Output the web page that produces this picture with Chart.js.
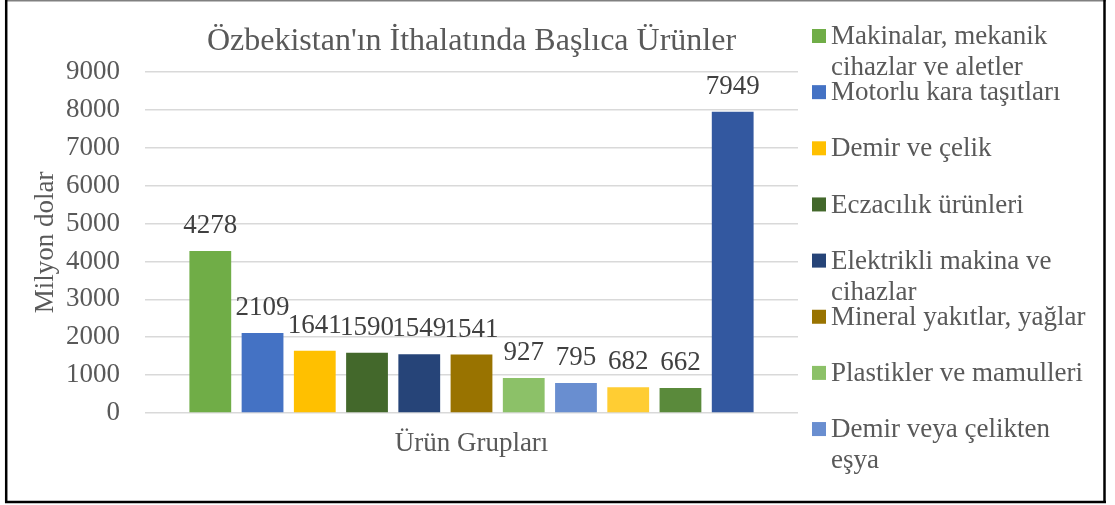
<!DOCTYPE html>
<html>
<head>
<meta charset="utf-8">
<script src="https://cdn.jsdelivr.net/npm/chart.js@4/dist/chart.umd.min.js"></script>
<style>
  html, body { margin: 0; padding: 0; background: #ffffff; }
  #wrap { position: relative; width: 1115px; height: 505px; }
</style>
</head>
<body>
<div id="wrap"><canvas id="c" width="1115" height="505"></canvas></div>
<script>
// ---- data ----
const categories = ['Ürün Grupları'];
const seriesNames = [
  'Makinalar, mekanik cihazlar ve aletler',
  'Motorlu kara taşıtları',
  'Demir ve çelik',
  'Eczacılık ürünleri',
  'Elektrikli makina ve cihazlar',
  'Mineral yakıtlar, yağlar',
  'Plastikler ve mamulleri',
  'Demir veya çelikten eşya',
  'Hububat',
  'Kağıt ve karton',
  'Diğer'
];
const seriesValues = [4278, 2109, 1641, 1590, 1549, 1541, 927, 795, 682, 662, 7949];
const seriesColors = ['#70AD47', '#4472C4', '#FFC000', '#43682B', '#264478', '#997300',
                      '#8CC168', '#698ED0', '#FFCD33', '#5A8A3B', '#3358A0'];
const yTicks = [0, 1000, 2000, 3000, 4000, 5000, 6000, 7000, 8000, 9000];
const titleText = "Özbekistan'ın İthalatında Başlıca Ürünler";
const yTitle = 'Milyon dolar';
const legendShown = 8;

const FONT = "'Liberation Serif', 'Times New Roman', serif";
const GREY = '#595959';

const frame = {
  id: 'frame',
  beforeDraw(chart) {
    const ctx = chart.ctx;
    ctx.save();
    ctx.fillStyle = '#ffffff';
    ctx.fillRect(0, 0, chart.width, chart.height);
    ctx.strokeStyle = '#808080';
    ctx.lineWidth = 1.5;
    ctx.beginPath(); ctx.moveTo(5, 0.75); ctx.lineTo(1106, 0.75); ctx.stroke();
    ctx.strokeStyle = '#000000';
    ctx.lineWidth = 2.5;
    ctx.beginPath(); ctx.moveTo(6.2, 0); ctx.lineTo(6.2, 503); ctx.stroke();
    ctx.beginPath(); ctx.moveTo(5, 502); ctx.lineTo(1106, 502); ctx.stroke();
    ctx.beginPath(); ctx.moveTo(1104.5, 0); ctx.lineTo(1104.5, 503); ctx.stroke();
    ctx.restore();
  }
};

const dataLabels = {
  id: 'dataLabels',
  afterDatasetsDraw(chart) {
    const ctx = chart.ctx;
    ctx.save();
    ctx.font = '27px ' + FONT;
    ctx.fillStyle = '#404040';
    ctx.textAlign = 'center';
    ctx.textBaseline = 'alphabetic';
    chart.data.datasets.forEach((ds, i) => {
      const meta = chart.getDatasetMeta(i);
      meta.data.forEach((bar, j) => {
        ctx.fillText(String(ds.data[j]), bar.x, bar.y - 18);
      });
    });
    ctx.restore();
  }
};

function wrapText(ctx, text, maxW) {
  const words = text.split(' ');
  const lines = [];
  let cur = '';
  words.forEach(w => {
    const test = cur ? cur + ' ' + w : w;
    if (ctx.measureText(test).width > maxW && cur) { lines.push(cur); cur = w; }
    else cur = test;
  });
  if (cur) lines.push(cur);
  return lines;
}

const sideLegend = {
  id: 'sideLegend',
  afterDraw(chart) {
    const ctx = chart.ctx;
    ctx.save();
    ctx.font = '27px ' + FONT;
    ctx.textBaseline = 'middle';
    ctx.textAlign = 'left';
    const x0 = 812, step = 56.15, y0 = 36;
    for (let i = 0; i < legendShown; i++) {
      const ds = chart.data.datasets[i];
      const cy = y0 + i * step;
      ctx.fillStyle = ds.backgroundColor;
      ctx.fillRect(x0, cy - 7, 14, 14);
      ctx.fillStyle = GREY;
      const lines = wrapText(ctx, ds.label, 268);
      lines.forEach((ln, k) => ctx.fillText(ln, x0 + 19, cy + 1 + k * 31));
    }
    ctx.restore();
  }
};

const datasets = seriesNames.map((name, i) => ({
  label: name,
  data: [seriesValues[i]],
  backgroundColor: seriesColors[i],
  borderWidth: 0,
  categoryPercentage: 0.88,
  barPercentage: 0.8
}));

new Chart(document.getElementById('c'), {
  type: 'bar',
  data: { labels: categories, datasets },
  plugins: [frame, dataLabels, sideLegend],
  options: {
    responsive: false,
    animation: false,
    devicePixelRatio: 1,
    layout: { padding: { left: 10, right: 317, top: 0, bottom: 0 } },
    plugins: {
      legend: { display: false },
      tooltip: { enabled: false },
      title: {
        display: true,
        text: titleText,
        fullSize: false,
        color: GREY,
        font: { family: FONT, size: 32, weight: 'normal', lineHeight: 1.2 },
        padding: { top: 22, bottom: 11.6 }
      }
    },
    scales: {
      x: {
        grid: { display: false, drawTicks: false },
        border: { display: false },
        ticks: { color: GREY, font: { family: FONT, size: 27 }, padding: 15 },
        afterFit(scale) { scale.height = 92; }
      },
      y: {
        min: 0, max: 9000,
        afterBuildTicks(scale) { scale.ticks = yTicks.map(v => ({ value: v })); },
        grid: { color: '#D9D9D9', lineWidth: 1.5, drawTicks: false },
        border: { display: false },
        ticks: {
          color: GREY, font: { family: FONT, size: 27 }, padding: 25,
          callback: (v) => String(v)
        },
        title: {
          display: true, text: yTitle, color: GREY,
          font: { family: FONT, size: 27, lineHeight: 1.2 },
          padding: { top: 20, bottom: 0 }
        },
        afterFit(scale) { scale.width = 135; }
      }
    }
  }
});
</script>
</body>
</html>
